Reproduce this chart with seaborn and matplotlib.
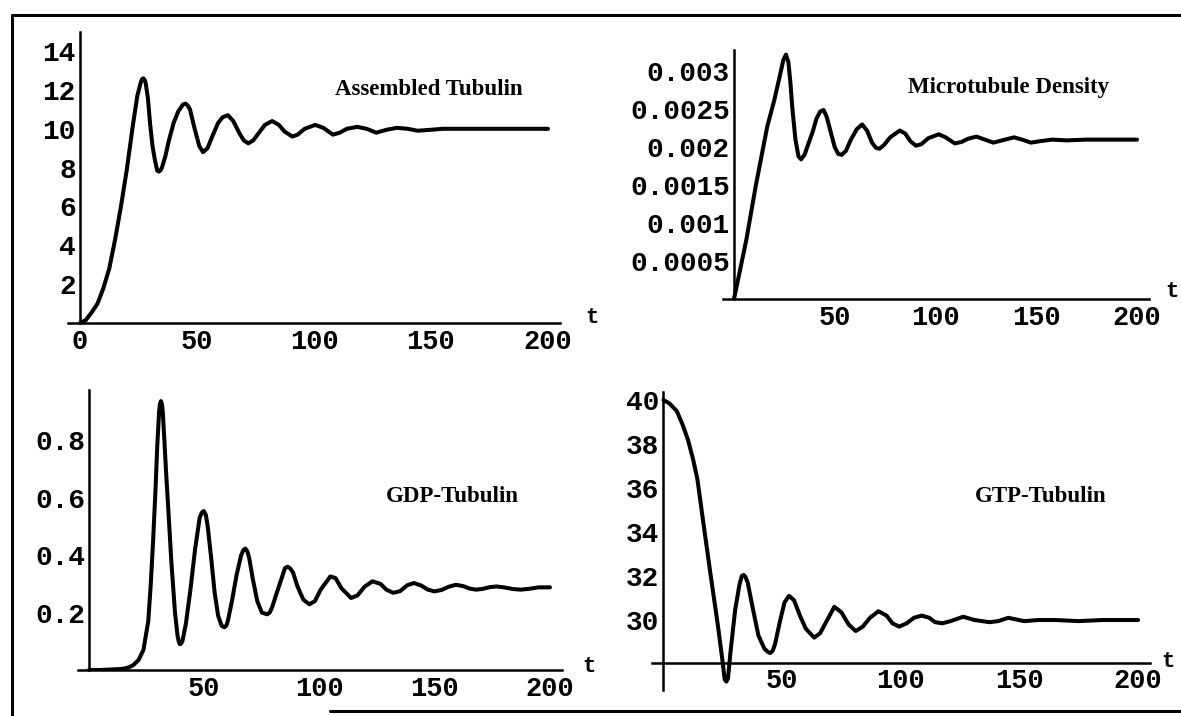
import matplotlib
matplotlib.use("Agg")
import matplotlib.pyplot as plt
from matplotlib.lines import Line2D
import seaborn as sns

# ---- time courses -------------------------------------------------------
assembled_t = [0, 2.5, 5, 7.5, 10, 12.5, 15, 17.5, 20, 22.5, 24.5, 26, 26.5, 27, 27.5, 28, 29,
               30, 31, 32, 33, 33.7, 34.4, 35, 36.5, 38, 40, 42, 44, 45.1, 46, 47, 49, 51, 52.6,
               54.5, 56.5, 59, 61, 63.2, 65.5, 68, 70, 71.9, 74, 76.5, 79, 82.1, 85, 87.5, 90.7,
               93, 96, 100.5, 104, 108.1, 111, 114, 118.5, 122.5, 126.6, 131, 135.4, 140, 144.3,
               150, 155, 160, 170, 180, 190, 200]
assembled_y = [0, 0.15, 0.55, 1.0, 1.8, 2.8, 4.3, 6.0, 7.9, 10.1, 11.7, 12.4, 12.55, 12.6, 12.55,
               12.4, 11.6, 10.2, 9.1, 8.4, 7.85, 7.8, 7.85, 8.0, 8.6, 9.4, 10.3, 10.9, 11.25,
               11.3, 11.2, 11.0, 10.0, 9.1, 8.8, 9.0, 9.6, 10.3, 10.6, 10.7, 10.4, 9.8, 9.4,
               9.25, 9.4, 9.8, 10.2, 10.4, 10.2, 9.85, 9.6, 9.7, 10.0, 10.2, 10.05, 9.7, 9.8,
               10.0, 10.1, 10.0, 9.8, 9.95, 10.05, 10.0, 9.9, 9.95, 10.0, 10.0, 10.0, 10.0,
               10.0, 10.0]

density_t = [0, 3, 6.2, 10.8, 16.5, 20, 23, 24.5, 25.8, 27, 28, 29, 30.5, 32, 33.3, 35, 37, 39,
             41, 42.8, 44.5, 46, 48, 50, 51.8, 53.5, 55.5, 58, 61, 63.6, 66, 68.5, 70.5, 72.2,
             74.5, 77.5, 82.3, 85, 87.5, 90.3, 93, 96.5, 101.6, 105, 109.6, 113, 116, 120.3,
             124.5, 128.7, 133, 139, 143, 147.4, 152, 158, 165, 175, 185, 200]
density_y = [0, 0.38, 0.79, 1.49, 2.27, 2.62, 2.97, 3.15, 3.22, 3.12, 2.85, 2.5, 2.1, 1.88,
             1.84, 1.9, 2.05, 2.2, 2.38, 2.47, 2.49, 2.4, 2.2, 2.0, 1.91, 1.9, 1.95, 2.1, 2.24,
             2.3, 2.22, 2.06, 1.99, 1.98, 2.03, 2.13, 2.22, 2.18, 2.08, 2.02, 2.04, 2.12, 2.17,
             2.13, 2.05, 2.07, 2.11, 2.14, 2.1, 2.06, 2.09, 2.13, 2.1, 2.06, 2.08, 2.1, 2.09,
             2.1, 2.1, 2.1]
density_y = [v * 1e-3 for v in density_y]

gdp_t = [0, 5, 10, 13, 15.3, 17.5, 19.2, 21.5, 23.6, 25.7, 26.8, 27.8, 28.8, 29.6, 30.4, 30.8,
         31.2, 31.6, 32, 32.7, 33.5, 34.4, 35.7, 37.3, 38.4, 38.9, 39.4, 39.9, 40.5, 42, 44, 46,
         48, 48.9, 49.8, 50.7, 51.5, 53, 54.5, 56, 57.5, 57.9, 58.8, 59.6, 60.2, 62, 64, 66,
         66.9, 67.8, 68.7, 69.5, 71, 73, 75, 76.2, 77.3, 78.4, 79.5, 81.5, 84, 85, 86.2, 87.3,
         88.5, 90.5, 93, 95.6, 98, 100.5, 104.7, 107, 109.5, 113.7, 116.5, 119.5, 123, 126.5,
         129, 132, 135, 138, 140.9, 144, 147, 149.9, 153, 156, 159.2, 162.5, 165, 167.9, 171,
         174, 176.8, 180, 184, 187.4, 191, 195, 200]
gdp_y = [0, 0, 0.002, 0.003, 0.005, 0.01, 0.017, 0.035, 0.07, 0.17, 0.3, 0.45, 0.62, 0.78, 0.9,
         0.928, 0.937, 0.928, 0.9, 0.8, 0.68, 0.56, 0.38, 0.2, 0.12, 0.1, 0.09, 0.092, 0.1,
         0.16, 0.28, 0.42, 0.53, 0.548, 0.554, 0.54, 0.5, 0.39, 0.27, 0.19, 0.155, 0.152,
         0.149, 0.155, 0.17, 0.24, 0.33, 0.4, 0.417, 0.423, 0.414, 0.39, 0.32, 0.24, 0.2,
         0.197, 0.194, 0.2, 0.22, 0.27, 0.33, 0.355, 0.36, 0.354, 0.34, 0.29, 0.245, 0.229,
         0.24, 0.28, 0.326, 0.32, 0.285, 0.251, 0.26, 0.29, 0.309, 0.3, 0.28, 0.269, 0.275,
         0.295, 0.303, 0.295, 0.28, 0.274, 0.279, 0.29, 0.297, 0.292, 0.284, 0.28, 0.283,
         0.289, 0.291, 0.288, 0.282, 0.28, 0.283, 0.288, 0.288]

gtp_t = [0, 2.5, 5.6, 8, 10.3, 12.5, 14.3, 16.7, 19.8, 23, 24.8, 25.8, 26.5, 27.2, 28.2, 30.2,
         32, 33, 33.8, 34.6, 35.5, 37.5, 40, 42.5, 44, 45, 46, 47, 49, 51, 52.9, 55, 57.5, 60,
         63.5, 66, 68.5, 72, 75, 78, 81, 84, 87, 90.6, 94, 96.5, 99.3, 102.5, 105.5, 108.8,
         112, 114.5, 117.5, 121, 126.3, 131, 137.4, 141, 145.3, 152, 158, 165, 175, 185, 200]
gtp_y = [40.0, 39.85, 39.5, 38.9, 38.2, 37.3, 36.4, 34.5, 32.1, 29.7, 28.2, 27.3, 27.2, 27.35,
         28.5, 30.45, 31.6, 32.0, 32.05, 31.95, 31.7, 30.6, 29.3, 28.7, 28.55, 28.5, 28.6,
         28.9, 29.9, 30.8, 31.1, 30.9, 30.2, 29.6, 29.2, 29.4, 29.9, 30.6, 30.35, 29.8, 29.5,
         29.7, 30.1, 30.4, 30.2, 29.85, 29.7, 29.85, 30.1, 30.2, 30.1, 29.9, 29.85, 29.95,
         30.15, 30.0, 29.9, 29.95, 30.1, 29.95, 30.0, 30.0, 29.95, 30.0, 30.0]

titles = ["Assembled Tubulin", "Microtubule Density", "GDP-Tubulin", "GTP-Tubulin"]

assembled_ticks = [2, 4, 6, 8, 10, 12, 14]
density_ticks = [0.0005, 0.001, 0.0015, 0.002, 0.0025, 0.003]
density_labels = ["0.0005", "0.001", "0.0015", "0.002", "0.0025", "0.003"]
gdp_ticks = [0.2, 0.4, 0.6, 0.8]
gdp_labels = ["0.2", "0.4", "0.6", "0.8"]
gtp_ticks = [30, 32, 34, 36, 38, 40]
time_ticks_first = [0, 50, 100, 150, 200]
time_ticks = [50, 100, 150, 200]

# ---- style --------------------------------------------------------------
sns.set_style("white")
plt.rcParams["font.family"] = ["Liberation Mono", "DejaVu Sans Mono"]
plt.rcParams["font.weight"] = "bold"

W, H = 1181, 716
fig = plt.figure(figsize=(W / 100, H / 100), dpi=100)


def px_axes(left, top, right, bottom):
    return fig.add_axes([left / W, 1 - bottom / H, (right - left) / W, (bottom - top) / H])


def style_axes(ax, y_origin):
    for side in ("top", "right"):
        ax.spines[side].set_visible(False)
    ax.spines["left"].set_position(("data", 0))
    ax.spines["bottom"].set_position(("data", y_origin))
    for side in ("left", "bottom"):
        ax.spines[side].set_linewidth(1.8)
        ax.spines[side].set_color("black")
    ax.tick_params(axis="y", direction="in", length=3, width=1.2, pad=3,
                   labelsize=20, colors="black")
    ax.tick_params(axis="x", direction="in", length=3, width=1.2, pad=4,
                   labelsize=19.5, colors="black")
    ax.set_xlabel("")
    ax.set_ylabel("")
    ax.patch.set_alpha(0)


def draw(ax, t, y):
    sns.lineplot(x=t, y=y, ax=ax, color="black", linewidth=2.9, sort=False,
                 solid_joinstyle="round", solid_capstyle="round")


def title(ax, x, y, text):
    ax.text(x, y, text, ha="center", va="center", fontsize=16.5,
            fontfamily="Liberation Serif", fontweight="bold", color="black")


def t_label(ax, x, y):
    ax.text(x, y, "t", ha="center", va="center", fontsize=16, fontweight="bold",
            color="black", clip_on=False)


# Assembled tubulin
ax1 = px_axes(68.3, 31.7, 559.7, 323)
draw(ax1, assembled_t, assembled_y)
ax1.set_xlim(-5, 205)
ax1.set_ylim(0, 15)
ax1.set_xticks(time_ticks_first)
ax1.set_yticks(assembled_ticks)
style_axes(ax1, 0)
title(ax1, 149, 12.03, titles[0])
t_label(ax1, 218.8, 0.26)

# Microtubule density
ax2 = px_axes(722.9, 49.6, 1149.1, 299)
draw(ax2, density_t, density_y)
ax2.set_xlim(-5.5, 206)
ax2.set_ylim(0, 0.003286)
ax2.set_xticks(time_ticks)
ax2.set_yticks(density_ticks)
ax2.set_yticklabels(density_labels)
style_axes(ax2, 0)
title(ax2, 136.2, 0.002782, titles[1])
t_label(ax2, 217.4, 0.0001)

# GDP-tubulin
ax3 = px_axes(77.5, 390.2, 561.5, 670)
draw(ax3, gdp_t, gdp_y)
ax3.set_xlim(-5, 205)
ax3.set_ylim(0, 0.975)
ax3.set_xticks(time_ticks)
ax3.set_yticks(gdp_ticks)
ax3.set_yticklabels(gdp_labels)
style_axes(ax3, 0)
title(ax3, 157.6, 0.604, titles[2])
t_label(ax3, 216.9, 0.012)

# GTP-tubulin
ax4 = px_axes(651.6, 391.7, 1150, 690.4)
draw(ax4, gtp_t, gtp_y)
ax4.set_xlim(-5, 205)
ax4.set_ylim(26.8, 40.38)
ax4.set_xticks(time_ticks)
ax4.set_yticks(gtp_ticks)
style_axes(ax4, 28.06)
title(ax4, 158.8, 35.6, titles[3])
t_label(ax4, 212.6, 28.1)

# frame around the figure
frame_kw = dict(color="black", linewidth=2.2, transform=fig.transFigure)
fig.add_artist(Line2D([12 / W, 1.0], [1 - 15 / H, 1 - 15 / H], **frame_kw))
fig.add_artist(Line2D([12 / W, 12 / W], [1 - 15 / H, 0.0], **frame_kw))
fig.add_artist(Line2D([330 / W, 1.0], [1 - 711 / H, 1 - 711 / H], **frame_kw))

fig.savefig("out.png", dpi=100, facecolor="white")
